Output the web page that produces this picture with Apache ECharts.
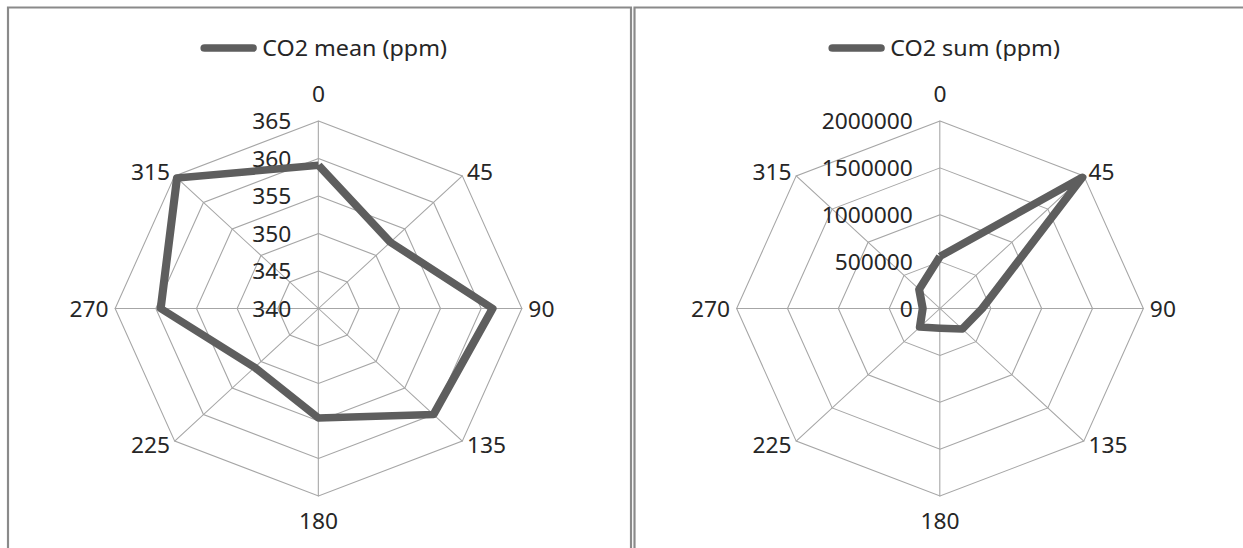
<!DOCTYPE html>
<html>
<head>
<meta charset="utf-8">
<script src="https://cdn.jsdelivr.net/npm/echarts@6/dist/echarts.min.js"></script>
<style>
  html, body { margin: 0; padding: 0; background: #ffffff; overflow: hidden; }
  #wrap { width: 1243px; height: 548px; overflow: hidden; position: relative; }
  #chart { width: 1146px; height: 548px; transform: scaleX(1.0846); transform-origin: 0 0; }
</style>
</head>
<body>
<div id="wrap"><div id="chart"></div></div>
<script>
// Directions (degrees), clockwise from top as in the reference
const directions = ['0', '45', '90', '135', '180', '225', '270', '315'];
// CO2 mean (ppm) per direction
const co2Mean = [359.1, 352.5, 361.4, 360.0, 354.6, 351.1, 359.4, 364.6];
// CO2 sum (ppm) per direction
const co2Sum = [556000, 1980000, 415000, 310000, 210000, 280000, 170000, 290000];
// Radial scale settings
const meanMin = 340, meanMax = 365, meanSplits = 5;
const sumMin = 0, sumMax = 2000000, sumSplits = 4;
const meanName = 'CO2 mean (ppm)';
const sumName = 'CO2 sum (ppm)';

const S = 1.0846; // horizontal stretch applied by CSS
const FONT = '"Noto Sans", "Open Sans", sans-serif';
const TXT = '#262626';
const GRID = '#a6a6a6';
const LINE = '#5e5e5e';

// ECharts radar runs counter-clockwise; reorder so directions run clockwise
const order = [0, 7, 6, 5, 4, 3, 2, 1];

function indicators(min, max) {
  return order.map((i, k) => {
    const ind = { name: directions[i], min: min, max: max };
    if (k === 0) ind.axisLabel = { show: true };
    return ind;
  });
}

function radarCfg(cx, min, max, splits) {
  return {
    center: [cx, 308.5],
    radius: 187.5,
    startAngle: 90,
    shape: 'polygon',
    splitNumber: splits,
    indicator: indicators(min, max),
    axisName: {
      color: TXT, fontSize: 21, fontFamily: FONT,
      formatter: function (name) {
        return (name === '0' || name === '180') ? '{v|' + name + '}' : name;
      },
      rich: { v: { fontSize: 21, fontFamily: FONT, color: TXT, padding: [8, 0, 11, 0] } }
    },
    nameGap: 6,
    axisLine: { lineStyle: { color: GRID, width: 1 } },
    splitLine: { lineStyle: { color: GRID, width: 1 } },
    splitArea: { show: false },
    axisTick: { show: false },
    axisLabel: {
      show: false, color: TXT, fontSize: 21, fontFamily: FONT, margin: 25,
      showMinLabel: true, showMaxLabel: true,
      formatter: function (v) { return String(v); }
    }
  };
}

const capsule = 'path://M4,0 H50 A4,4 0 0 1 50,8 H4 A4,4 0 0 1 4,0 Z';

function legendCfg(name, leftPx) {
  return {
    data: [name], left: leftPx / S, top: 32, itemWidth: 52, itemHeight: 9, icon: capsule,
    textStyle: { color: TXT, fontSize: 21.5, fontFamily: FONT }
  };
}

const option = {
  animation: false,
  backgroundColor: '#ffffff',
  graphic: [
    { type: 'rect', shape: { x: 8 / S, y: 7.5, width: (631 - 8) / S, height: 542 }, style: { fill: 'none', stroke: '#8a8a8a', lineWidth: 2 } },
    { type: 'rect', shape: { x: 634.5 / S, y: 7.5, width: 700, height: 542 }, style: { fill: 'none', stroke: '#8a8a8a', lineWidth: 2 } }
  ],
  legend: [
    legendCfg(meanName, 195),
    legendCfg(sumName, 823)
  ],
  radar: [
    radarCfg(318.5 / S, meanMin, meanMax, meanSplits),
    radarCfg(940 / S, sumMin, sumMax, sumSplits)
  ],
  series: [
    { type: 'radar', radarIndex: 0, symbol: 'none',
      lineStyle: { color: LINE, width: 7.5, join: 'round' }, itemStyle: { color: LINE },
      data: [{ name: meanName, value: order.map(i => co2Mean[i]) }] },
    { type: 'radar', radarIndex: 1, symbol: 'none',
      lineStyle: { color: LINE, width: 7.5, join: 'round' }, itemStyle: { color: LINE },
      data: [{ name: sumName, value: order.map(i => co2Sum[i]) }] }
  ]
};

const chart = echarts.init(document.getElementById('chart'), null, { renderer: 'svg' });
chart.setOption(option);
</script>
</body>
</html>
